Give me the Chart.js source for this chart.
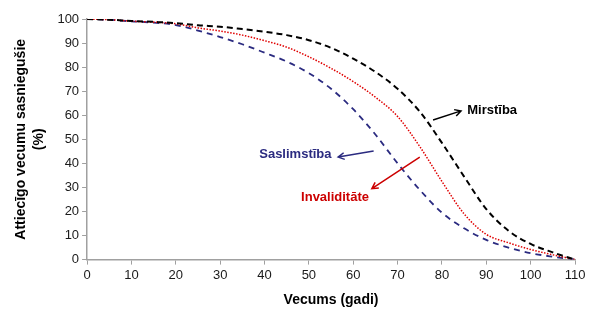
<!DOCTYPE html>
<html>
<head>
<meta charset="utf-8">
<script src="https://cdn.jsdelivr.net/npm/chart.js@4/dist/chart.umd.min.js"></script>
<style>
  html, body { margin: 0; padding: 0; background: #fff; }
  #wrap { width: 589px; height: 313px; }
</style>
</head>
<body>
<div id="wrap"><canvas id="chart" width="589" height="313"></canvas></div>
<script>
// ages (x) and the share reaching that age, %
const ages = [0, 5, 10, 15, 20, 25, 30, 35, 40, 45, 50, 55, 60, 65, 70, 75, 80, 85, 90, 95, 100, 105, 110];
const mirstiba = [100, 99.7, 99.2, 98.8, 98.3, 97.4, 96.8, 95.8, 94.7, 93.3, 91.2, 88, 83.5, 78, 71, 61.5, 48.5, 34.5, 21, 12, 6.5, 3, 0];
const invaliditate = [100, 99.7, 99.1, 98.7, 98, 96.3, 95, 93.3, 91, 88.3, 84.3, 79.5, 74, 67.5, 59.5, 47, 32.5, 19, 10.5, 7, 4.2, 2, 0];
const saslimstiba = [100, 99.7, 99, 98.5, 97.5, 95.2, 92.5, 89.5, 86, 82.3, 77.5, 71, 62.5, 52, 40, 29, 19.5, 13, 8.2, 5, 2.7, 1.2, 0];

const xTicks = [0, 10, 20, 30, 40, 50, 60, 70, 80, 90, 100, 110];
const yTicks = [0, 10, 20, 30, 40, 50, 60, 70, 80, 90, 100];

// label text, where it sits and where the arrow goes (data units)
const labels = [
  { text: 'Mirstība', color: '#000000', align: 'left', at: [85.7, 61.8], from: [78, 58], to: [84.3, 61.8] },
  { text: 'Saslimstība', color: '#2B2B80', align: 'right', at: [55.1, 43.9], from: [64.6, 45.1], to: [56.6, 42.6] },
  { text: 'Invaliditāte', color: '#CC0000', align: 'center', at: [55.9, 26], from: [75, 42.6], to: [64.2, 29.5] }
];

const FONT = '"Liberation Sans", Arial, sans-serif';

const toPts = (ys) => ages.map((a, i) => ({ x: a, y: ys[i] }));

const arrowLabels = {
  id: 'arrowLabels',
  afterDatasetsDraw(chart) {
    const { ctx, scales } = chart;
    const sx = scales.x, sy = scales.y;
    labels.forEach((l) => {
      const x1 = sx.getPixelForValue(l.from[0]), y1 = sy.getPixelForValue(l.from[1]);
      const x2 = sx.getPixelForValue(l.to[0]), y2 = sy.getPixelForValue(l.to[1]);
      ctx.save();
      ctx.strokeStyle = l.color;
      ctx.lineWidth = 1.5;
      ctx.setLineDash([]);
      ctx.beginPath();
      ctx.moveTo(x1, y1);
      ctx.lineTo(x2, y2);
      const ang = Math.atan2(y2 - y1, x2 - x1);
      const h = 7;
      ctx.moveTo(x2 - h * Math.cos(ang - 0.5), y2 - h * Math.sin(ang - 0.5));
      ctx.lineTo(x2, y2);
      ctx.lineTo(x2 - h * Math.cos(ang + 0.5), y2 - h * Math.sin(ang + 0.5));
      ctx.stroke();
      ctx.fillStyle = l.color;
      ctx.font = 'bold 13px ' + FONT;
      ctx.textAlign = l.align;
      ctx.textBaseline = 'middle';
      ctx.fillText(l.text, sx.getPixelForValue(l.at[0]), sy.getPixelForValue(l.at[1]));
      ctx.restore();
    });
  }
};

new Chart(document.getElementById('chart').getContext('2d'), {
  type: 'line',
  data: {
    datasets: [
      {
        label: 'Mirstība',
        data: toPts(mirstiba),
        borderColor: '#000000',
        borderWidth: 2,
        borderDash: [6, 4],
        pointRadius: 0,
        cubicInterpolationMode: 'monotone'
      },
      {
        label: 'Invaliditāte',
        data: toPts(invaliditate),
        borderColor: '#E00000',
        borderWidth: 1.5,
        borderDash: [1.5, 1.5],
        pointRadius: 0,
        cubicInterpolationMode: 'monotone'
      },
      {
        label: 'Saslimstība',
        data: toPts(saslimstiba),
        borderColor: '#2B2B80',
        borderWidth: 1.8,
        borderDash: [6, 5],
        pointRadius: 0,
        cubicInterpolationMode: 'monotone'
      }
    ]
  },
  options: {
    responsive: false,
    animation: false,
    layout: { padding: { left: 12, right: 14, top: 19, bottom: 4 } },
    plugins: { legend: { display: false }, tooltip: { enabled: false } },
    scales: {
      x: {
        type: 'linear',
        min: 0,
        max: 110,
        afterBuildTicks: (axis) => { axis.ticks = xTicks.map((v) => ({ value: v })); },
        grid: { drawOnChartArea: false, color: '#A0A0A0', tickLength: 5, lineWidth: 1 },
        border: { color: '#A0A0A0', width: 1.5 },
        ticks: { color: '#1A1A1A', font: { family: FONT, size: 13 }, padding: 3, maxRotation: 0 },
        title: { display: true, text: 'Vecums (gadi)', color: '#000', font: { family: FONT, size: 14, weight: 'bold' }, padding: { top: 6, bottom: 0 } }
      },
      y: {
        min: 0,
        max: 100,
        afterBuildTicks: (axis) => { axis.ticks = yTicks.map((v) => ({ value: v })); },
        grid: { drawOnChartArea: false, color: '#A0A0A0', tickLength: 5, lineWidth: 1 },
        border: { color: '#A0A0A0', width: 1.5 },
        ticks: { color: '#1A1A1A', font: { family: FONT, size: 13 }, padding: 3 },
        title: { display: true, text: ['Attiecīgo vecumu sasniegušie', '(%)'], color: '#000', font: { family: FONT, size: 14, weight: 'bold', lineHeight: 1.3 }, padding: { top: 0, bottom: 6 } }
      }
    }
  },
  plugins: [arrowLabels]
});
</script>
</body>
</html>
